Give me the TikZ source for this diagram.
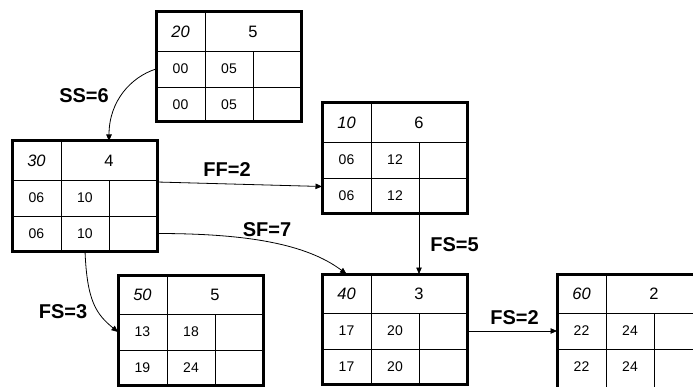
\documentclass[tikz,border=0pt]{standalone}
\usepackage{fontspec}
\setmainfont{Liberation Sans}
\usetikzlibrary{arrows.meta}
\newcommand\lastrow{35}
\newcommand\lastdepth{0}
% #1 name, #2 left, #3 top, #4 id, #5 duration, #6 #7 row-2 texts, #8 #9 row-3 texts
\newcommand\actbox[9]{%
  \node[hcell, minimum width=49pt, anchor=north west] (#1-h) at (#2,#3) {\itshape #4};
  \node[hcell, minimum width=96pt, anchor=north west] (#1-d) at (#1-h.north east) {#5};
  \node[rcell, minimum width=49pt, anchor=north west] (#1-a1) at (#1-h.south west) {#6};
  \node[rcell, anchor=north west] (#1-a2) at (#1-a1.north east) {#7};
  \node[rcell, anchor=north west] (#1-a3) at (#1-a2.north east) {};
  \node[lcell, minimum width=49pt, anchor=north west] (#1-b1) at (#1-a1.south west) {#8};
  \node[lcell, anchor=north west] (#1-b2) at (#1-b1.north east) {#9};
  \node[lcell, anchor=north west] (#1-b3) at (#1-b2.north east) {};
  \draw[outerbox] (#1-h.north west) rectangle (#1-b3.south east);
}
\tikzset{
  cellbase/.style={draw, line width=0.9pt, inner sep=0pt, outer sep=0pt,
    font=\fontsize{14}{16}\selectfont},
  hcell/.style={cellbase, minimum height=39pt, font=\fontsize{16.5}{18}\selectfont},
  rcell/.style={cellbase, minimum height=36pt, minimum width=48pt},
  lcell/.style={cellbase, minimum height=\lastrow pt, minimum width=48pt,
    text depth=\lastdepth pt},
  outerbox/.style={line width=3pt},
  conn/.style={line width=0.8pt, -{Triangle[length=6.5pt,width=5.5pt]}},
  lab/.style={font=\bfseries\fontsize{20}{22}\selectfont, inner sep=0pt}
}
\begin{document}
\begin{tikzpicture}[x=1pt,y=1pt]
  \clip (0,0) rectangle (693,386);
  \fill[white] (0,0) rectangle (693,386);

  \actbox{b20}{156}{374}{20}{5}{00}{05}{00}{05}
  \actbox{b30}{12}{245}{30}{4}{06}{10}{06}{10}
  \actbox{b10}{322}{283}{10}{6}{06}{12}{06}{12}
  \actbox{b50}{118}{111}{50}{5}{13}{18}{19}{24}
  \actbox{b40}{322}{112}{40}{3}{17}{20}{17}{20}
  \renewcommand\lastrow{52}
  \renewcommand\lastdepth{17}
  \actbox{b60}{557}{112}{60}{2}{22}{24}{22}{24}

  % connectors
  \draw[conn] (b20-a1.west) .. controls +(-25,-8) and +(0,40) .. (b30-d.north);
  \draw[conn] ([yshift=-2pt]b30-a3.north east) -- ([yshift=9pt]b10-b1.west);
  \draw[conn] (b30-b3.east) .. controls +(90,0) and +(-40,30) .. (b40-h.north);
  \draw[conn] (b10-b2.south east) -- (b40-d.north);
  \draw[conn] (b30-b2.south) .. controls +(2,-50) and +(-22,18) .. (b50-a1.west);
  \draw[conn] (b40-a3.east) -- (b60-a1.west);

  % labels
  \node[lab] (lss) at (84,290) {SS=6};
  \node[lab] (lff) at (227,216.5) {FF=2};
  \node[lab] (lsf) at (267,156) {SF=7};
  \node[lab] (lfs5) at (454.5,141) {FS=5};
  \node[lab] (lfs3) at (63,74.5) {FS=3};
  \node[lab] (lfs2) at (514.5,68) {FS=2};
\end{tikzpicture}
\end{document}
